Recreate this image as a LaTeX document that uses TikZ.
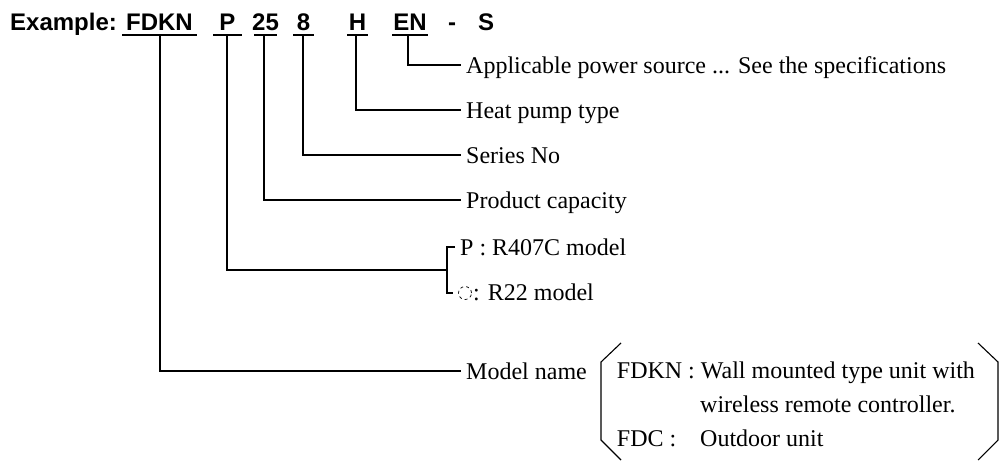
\documentclass[tikz,border=0pt]{standalone}
\usepackage{fontspec}
\setmainfont{Liberation Serif}
\newfontfamily\headfont{Liberation Sans}
\begin{document}
\begin{tikzpicture}[x=1pt,y=-1pt,
  conn/.style={line width=1.1pt},
  uline/.style={line width=2.2pt},
  code/.style={font=\headfont\bfseries\fontsize{24}{28}\selectfont, anchor=base, inner sep=0pt},
  lbl/.style={font=\fontsize{24}{28}\selectfont, anchor=west, inner sep=0pt, text height=16pt, text depth=0pt},
  txt/.style={font=\fontsize{24}{28}\selectfont, anchor=base west, inner sep=0pt}]
\useasboundingbox (0,0) rectangle (1000,467);
% header
\node[code, anchor=base west] (ex) at (10,30.5) {Example:};
\node[code] (cFDKN) at (159.5,30.5) {FDKN};
\node[code] (cP) at (227.5,30.5) {P};
\node[code] (c25) at (265.5,30.5) {25};
\node[code] (c8) at (303.5,30.5) {8};
\node[code] (cH) at (357.5,30.5) {H};
\node[code] (cEN) at (410,30.5) {EN};
\node[code] (cdash) at (452,30.5) {-};
\node[code] (cS) at (486,30.5) {S};
% underlines
\draw[uline] (122,35) -- (197,35);
\draw[uline] (213,35) -- (242,35);
\draw[uline] (254,35) -- (277,35);
\draw[uline] (293,35) -- (314,35);
\draw[uline] (347,35) -- (368,35);
\draw[uline] (392,35) -- (428,35);
\coordinate (uFDKN) at (160,35);
\coordinate (uP) at (227,35);
\coordinate (u25) at (264,35);
\coordinate (u8) at (303,35);
\coordinate (uH) at (356,35);
\coordinate (uEN) at (408,35);
% labels
\node[lbl] (lA) at (466,65) {Applicable power source ... See the specifications};
\node[lbl] (lH) at (466,110) {Heat pump type};
\node[lbl] (lS) at (466,155) {Series No};
\node[lbl] (lC) at (466,200) {Product capacity};
\node[lbl] (lP) at (460,247) {P : R407C model};
\node[draw, dashed, circle, line width=0.7pt, minimum size=13pt, inner sep=0pt] (circ) at (465,293) {};
\node[lbl] (lR) at (473,292) {: R22 model};
\node[lbl] (lM) at (466,371) {Model name};
\coordinate (brk) at (447,270);
% connectors
\draw[conn] (uEN) |- ([xshift=-5pt]lA.west);
\draw[conn] (uH) |- ([xshift=-5pt]lH.west);
\draw[conn] (u8) |- ([xshift=-5pt]lS.west);
\draw[conn] (u25) |- ([xshift=-5pt]lC.west);
\draw[conn] (uP) |- (brk);
\draw[conn] ([xshift=-5pt]lP.west) -| (brk) |- ([xshift=-5pt]circ.west);
\draw[conn] (uFDKN) |- ([xshift=-5pt]lM.west);
% parentheses
\draw[conn] (621,343) -- (601,362) -- (601,440) -- (621,460);
\draw[conn] (978,343) -- (998,362) -- (998,440) -- (978,460);
% explanation text
\node[txt] (t1) at (616.7,378) {FDKN : Wall mounted type unit with};
\node[txt] (t2) at (700,412) {wireless remote controller.};
\node[txt] (t3) at (616.7,446) {FDC :};
\node[txt] (t4) at (700,446) {Outdoor unit};
\end{tikzpicture}
\end{document}
